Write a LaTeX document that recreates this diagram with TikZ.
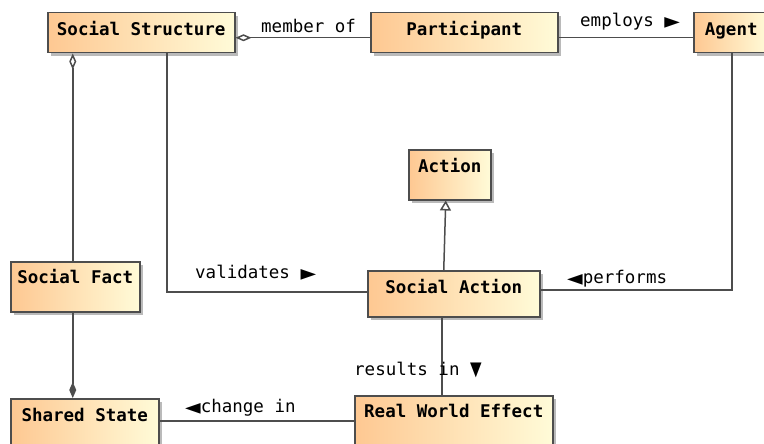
\documentclass[tikz,border=0pt]{standalone}
\usepackage{fontspec}
\setmonofont{DejaVu Sans Mono}
\newfontfamily\symfont{DejaVu Sans}
\usetikzlibrary{arrows.meta,shadows}
\definecolor{clsleft}{HTML}{FEC892}
\definecolor{clsright}{HTML}{FFFBD8}
\definecolor{clsline}{HTML}{4D4D4D}
\newcommand{\trright}{\scalebox{1.45}[1]{\symfont\fontsize{14}{14}\selectfont ▶}}
\newcommand{\trleft}{\scalebox{1.45}[1]{\symfont\fontsize{14}{14}\selectfont ◀}}
\newcommand{\trdown}{\scalebox{1}[1.3]{\symfont\fontsize{15}{15}\selectfont ▼}}
\tikzset{
  cls/.style={draw=clsline, line width=1.5pt, left color=clsleft, right color=clsright,
    inner sep=0pt, anchor=north west, font=\ttfamily\bfseries\fontsize{17.5}{20}\selectfont,
    drop shadow={shadow xshift=3pt, shadow yshift=-3pt, fill=black!45, opacity=0.6}},
  assoc/.style={draw=clsline, line width=1.5pt},
  aggr/.style={assoc, {Diamond[open, fill=white, length=16pt, width=7pt]}-},
  compos/.style={assoc, {Diamond[length=16pt, width=7pt]}-},
  gener/.style={assoc, -{Triangle[open, fill=white, length=10pt, width=11pt]}},
  lbl/.style={font=\ttfamily\fontsize{17.5}{20}\selectfont, inner sep=0pt, anchor=base west}
}

\begin{document}
\begin{tikzpicture}[x=1pt, y=-1pt]
    \useasboundingbox[fill=white] (0,0) rectangle (764,444);

    % classes
    \node[cls, minimum width=187pt, text height=23pt, text depth=17pt] (socstruct) at (47,12) {Social Structure};
    \node[cls, minimum width=187pt, text height=23pt, text depth=17pt] (particip) at (370,12) {Participant};
    \node[cls, minimum width=75pt, text height=23pt, text depth=17pt] (agent) at (693,12) {Agent};
    \node[cls, minimum width=82pt, text height=23pt, text depth=27pt] (action) at (408,149) {Action};
    \node[cls, minimum width=172pt, text height=23pt, text depth=23pt] (socaction) at (367,270) {Social Action};
    \node[cls, minimum width=129pt, text height=22pt, text depth=28pt] (socfact) at (10,261) {Social Fact};
    \node[cls, minimum width=148pt, text height=23pt, text depth=35pt] (sharedst) at (10,398) {Shared State};
    \node[cls, minimum width=198pt, text height=22pt, text depth=38pt] (rwe) at (354,395) {Real World Effect};

    % relations
    \draw[aggr] ([yshift=-5pt]socstruct.east) -- ([yshift=-5pt]particip.west);
    \draw[assoc] ([yshift=-5pt]particip.east) -- ([yshift=-5pt]agent.west);
    \draw[aggr] ([xshift=-68.5pt]socstruct.south) -- ([xshift=-2.5pt]socfact.north);
    \draw[compos] ([xshift=-12pt]sharedst.north) -- ([xshift=-2.5pt]socfact.south);
    \draw[assoc] ([xshift=25.5pt]socstruct.south) |- ([yshift=2pt]socaction.west);
    \draw[assoc] ([xshift=0.5pt]agent.south) |- ([yshift=4pt]socaction.east);
    \draw[gener] ([xshift=-10pt]socaction.north) -- ([xshift=-4pt]action.south);
    \draw[assoc] ([xshift=-12pt]socaction.south) -- ([xshift=-12pt]socaction.south |- rwe.north);
    \draw[assoc] ([yshift=7pt]sharedst.east) -- ([yshift=7pt]sharedst.east -| rwe.west);

    % labels
    \node[lbl] (lblmember) at (261,33) {member of};
    \node[lbl] (lblemploys) at (580,27) {employs \trright};
    \node[lbl] (lblvalid) at (195,278) {validates \trright};
    \node[lbl] (lblperform) at (567,283) {\trleft performs};
    \node[lbl] (lblresult) at (354,375) {results in \trdown};
    \node[lbl] (lblchange) at (185,412) {\trleft change in};
\end{tikzpicture}
\end{document}
